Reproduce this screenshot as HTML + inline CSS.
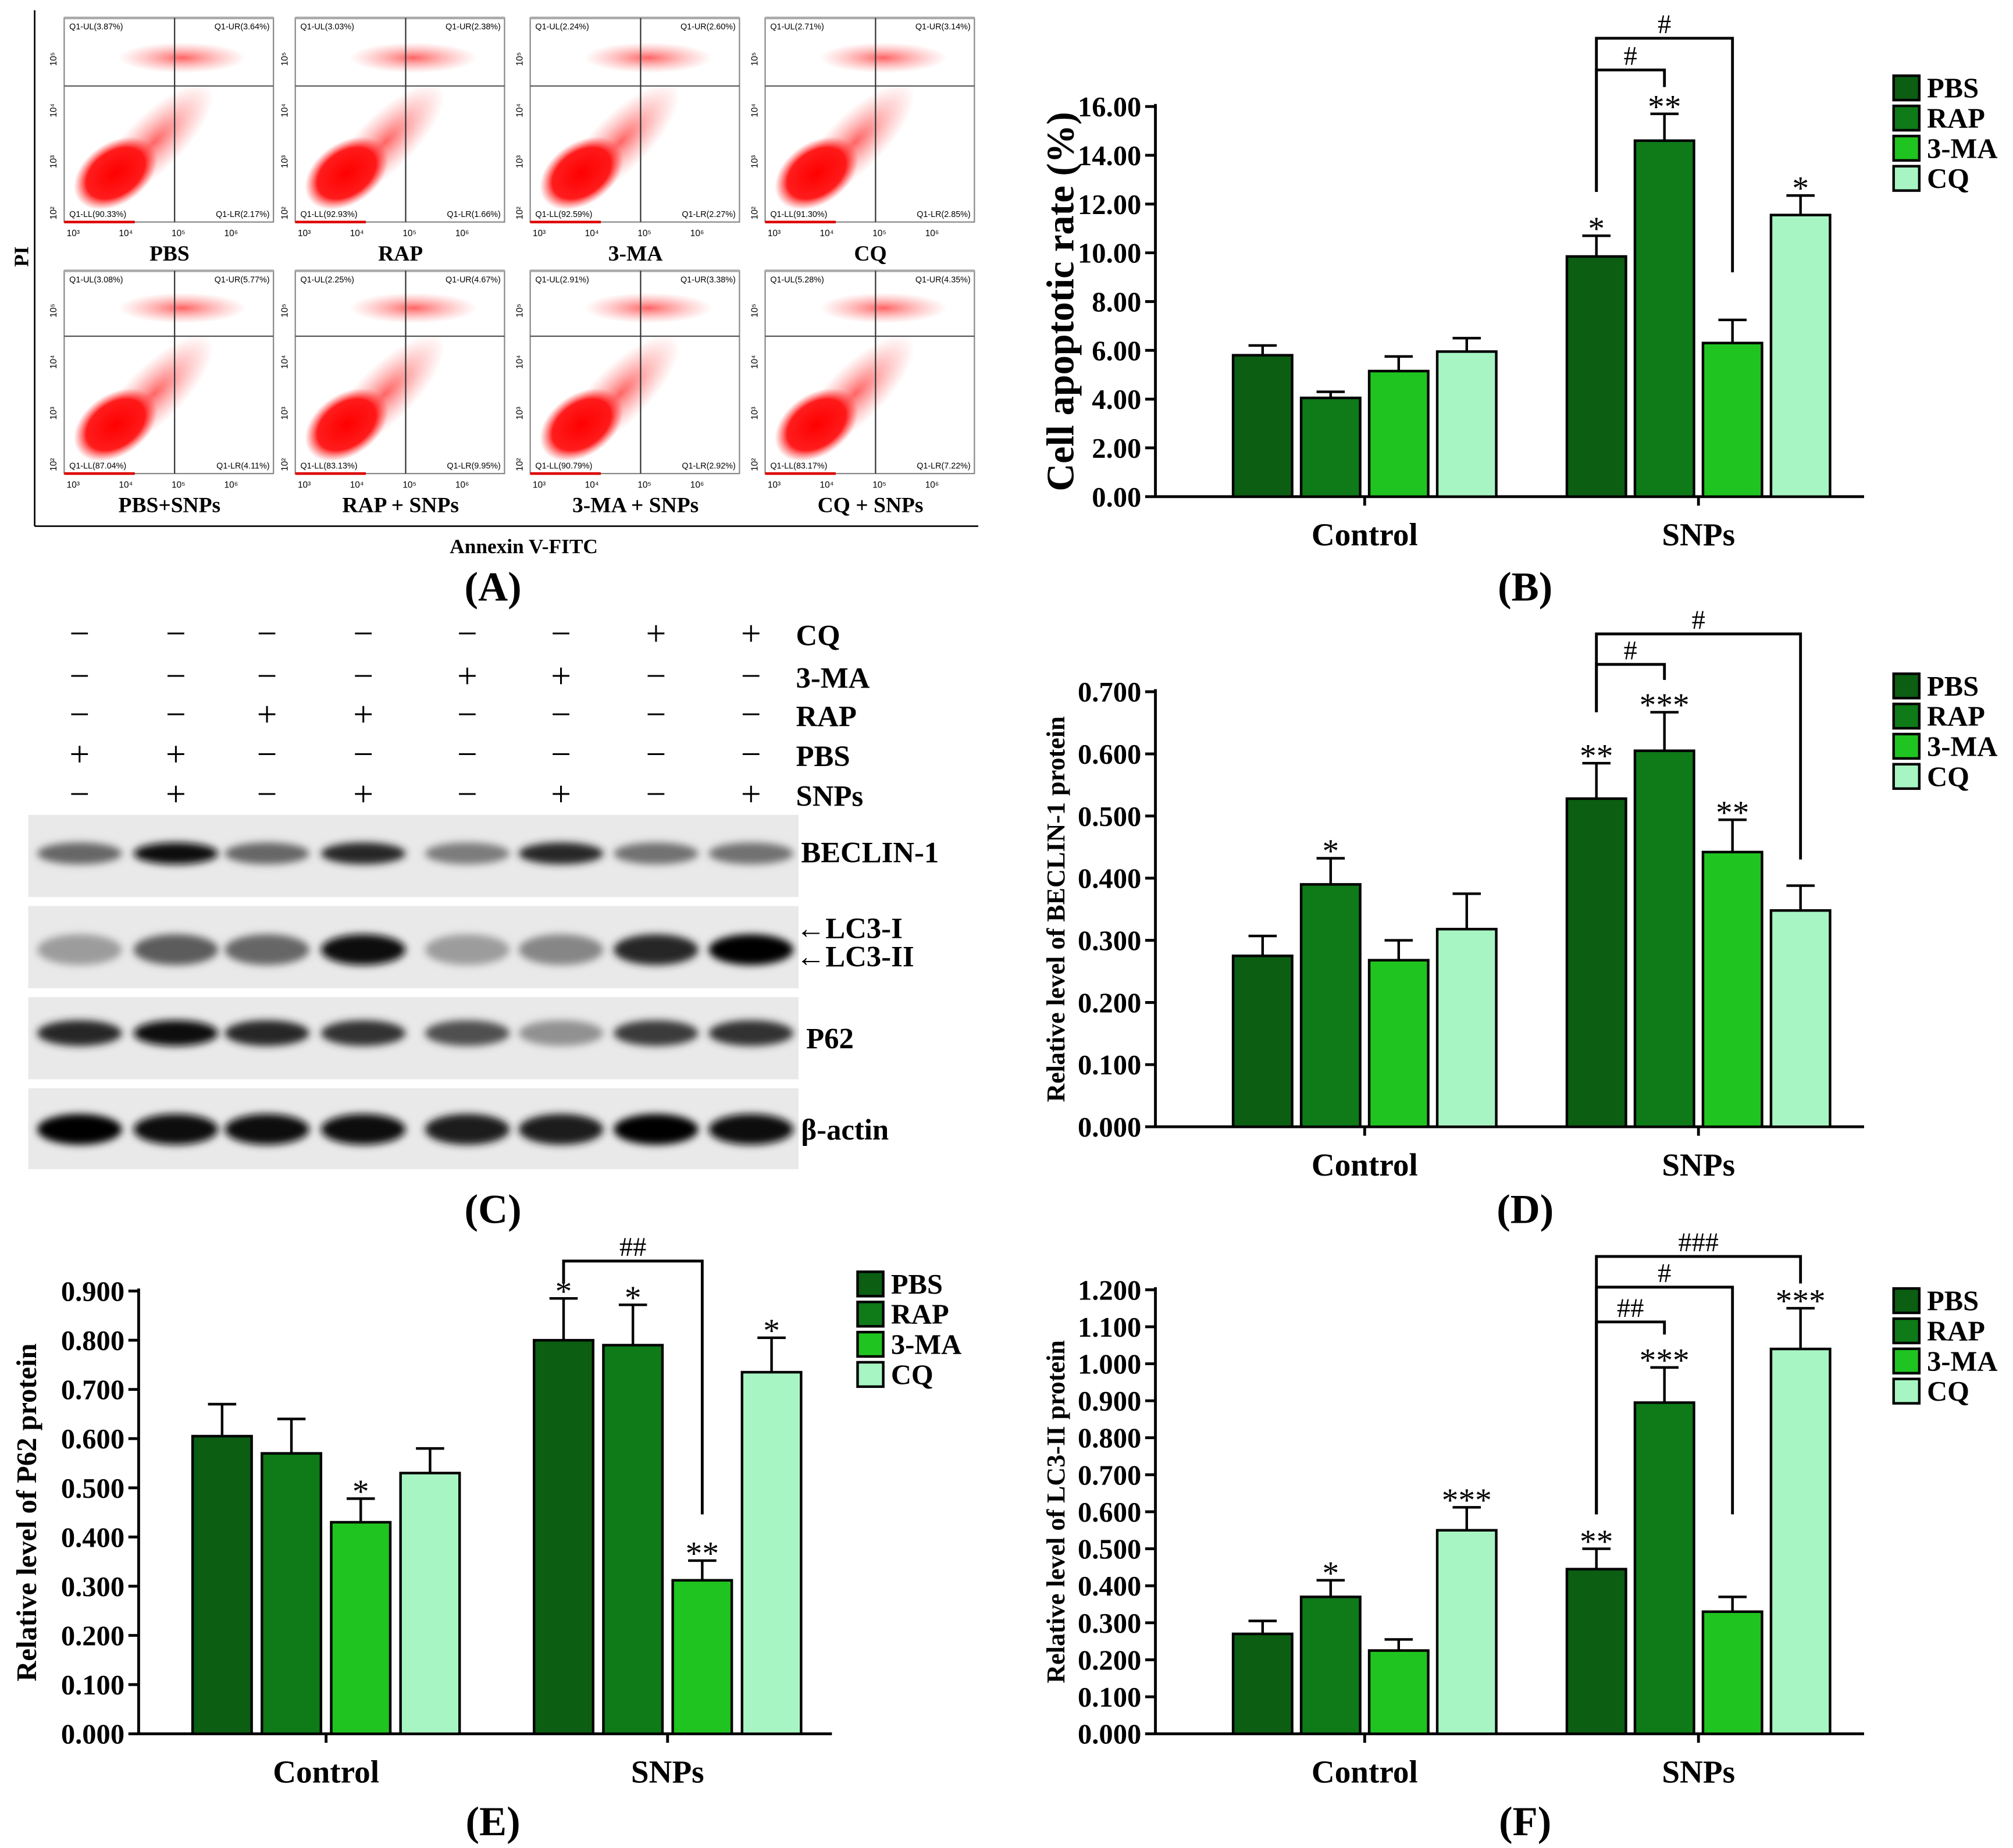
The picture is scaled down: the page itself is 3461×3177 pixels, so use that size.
<!DOCTYPE html>
<html><head><meta charset="utf-8"><style>
html,body{margin:0;padding:0;background:#fff;}
svg{display:block;font-family:"Liberation Serif",serif;}
</style></head><body>
<svg id="fig" xmlns="http://www.w3.org/2000/svg" width="3461" height="3177" viewBox="0 0 1568 1440" preserveAspectRatio="none">
<defs>
<filter id="blur2" x="-50%" y="-50%" width="200%" height="200%"><feGaussianBlur stdDeviation="3"/></filter>
<radialGradient id="dens"><stop offset="0" stop-color="#f00" stop-opacity="1"/><stop offset="0.7" stop-color="#f11" stop-opacity="0.95"/><stop offset="1" stop-color="#f44" stop-opacity="0"/></radialGradient>
<radialGradient id="dens2"><stop offset="0" stop-color="#f22" stop-opacity="0.7"/><stop offset="1" stop-color="#f66" stop-opacity="0"/></radialGradient>
</defs>
<g id="panelA"></g>
<g id="panelC"></g>
<g id="charts"></g>
</svg>
<script>
// ---------- data ----------
const groups = ["Control", "SNPs"];
const seriesNames = ["PBS", "RAP", "3-MA", "CQ"];
const seriesColors = ["#0b5e12", "#0e7a18", "#20c420", "#a8f5c4"];

const apoptosisValues = [[5.8, 4.05, 5.15, 5.95], [9.85, 14.6, 6.3, 11.55]];
const apoptosisErrors = [[6.2, 4.3, 5.75, 6.5], [10.7, 15.7, 7.25, 12.35]];
const apoptosisStars = [["", "", "", ""], ["*", "**", "", "*"]];
const apoptosisTicks = ["0.00","2.00","4.00","6.00","8.00","10.00","12.00","14.00","16.00"];

const beclinValues = [[0.275, 0.39, 0.268, 0.318], [0.528, 0.605, 0.442, 0.348]];
const beclinErrors = [[0.307, 0.432, 0.3, 0.375], [0.585, 0.667, 0.494, 0.388]];
const beclinStars = [["", "*", "", ""], ["**", "***", "**", ""]];
const beclinTicks = ["0.000","0.100","0.200","0.300","0.400","0.500","0.600","0.700"];

const p62Values = [[0.605, 0.57, 0.43, 0.53], [0.80, 0.79, 0.312, 0.735]];
const p62Errors = [[0.67, 0.64, 0.478, 0.58], [0.885, 0.872, 0.352, 0.805]];
const p62Stars = [["", "", "*", ""], ["*", "*", "**", "*"]];
const p62Ticks = ["0.000","0.100","0.200","0.300","0.400","0.500","0.600","0.700","0.800","0.900"];

const lc3Values = [[0.27, 0.37, 0.225, 0.55], [0.445, 0.895, 0.33, 1.04]];
const lc3Errors = [[0.305, 0.415, 0.255, 0.612], [0.5, 0.99, 0.37, 1.15]];
const lc3Stars = [["", "*", "", "***"], ["**", "***", "", "***"]];
const lc3Ticks = ["0.000","0.100","0.200","0.300","0.400","0.500","0.600","0.700","0.800","0.900","1.000","1.100","1.200"];

// brackets: [fromBar, toBar, topValue, leftBottomValue, rightBottomValue, label] (bars in SNPs group)
const apoptosisBrackets = [[0, 2, 18.8, 12.5, 9.2, "#"], [0, 1, 17.5, 12.5, 16.8, "#"]];
const beclinBrackets = [[0, 3, 0.793, 0.667, 0.43, "#"], [0, 1, 0.744, 0.667, 0.719, "#"]];
const p62Brackets = [[0, 2, 0.961, 0.915, 0.446, "##"]];
const lc3Brackets = [[0, 3, 1.29, 0.593, 1.217, "###"], [0, 2, 1.207, 0.593, 0.593, "#"], [0, 1, 1.113, 0.593, 1.079, "##"]];

// ---------- helpers ----------
const NS = "http://www.w3.org/2000/svg";
function mk(tag, attrs, parent, text) {
  const e = document.createElementNS(NS, tag);
  for (const k in attrs) e.setAttribute(k, attrs[k]);
  if (text !== undefined) e.textContent = text;
  parent.appendChild(e);
  return e;
}
const charts = document.getElementById("charts");

function drawChart(cfg) {
  const g = mk("g", {}, charts);
  
  
  const max = cfg.max;
  const y = v => cfg.y0 - v / max * (cfg.y0 - cfg.yTop);
  const barX = (gi, si) => cfg.centers[gi] + (si - 1.5) * cfg.gap;
  const ax = mk("g", {stroke: "#000", "stroke-width": 2.2, fill: "none"}, g);
  
  
  mk("line", {x1: cfg.ax, y1: y(max) - 2, x2: cfg.ax, y2: cfg.y0}, ax);
  mk("line", {x1: cfg.ax, y1: cfg.y0, x2: cfg.xEnd, y2: cfg.y0}, ax);
  cfg.ticks.forEach((t, i) => {
    const v = i * cfg.step;
    mk("line", {x1: cfg.ax - 8, y1: y(v), x2: cfg.ax, y2: y(v)}, ax);
    const tl = mk("text", {x: cfg.ax - 11, y: y(v) + cfg.tfs * 0.35, "text-anchor": "end", "font-size": cfg.tfs, "font-weight": "bold"}, g, t);
    
    
  });
  groups.forEach((gn, gi) => {
    mk("line", {x1: cfg.centers[gi], y1: cfg.y0, x2: cfg.centers[gi], y2: cfg.y0 + 7}, ax);
    const cl = mk("text", {x: cfg.centers[gi], y: cfg.y0 + 38, "text-anchor": "middle", "font-size": 25, "font-weight": "bold"}, g, gn);
    
    
    cfg.values[gi].forEach((v, si) => {
      const cx = barX(gi, si);
      const r = mk("rect", {x: cx - cfg.bw / 2, y: y(v), width: cfg.bw, height: cfg.y0 - y(v), fill: seriesColors[si], stroke: "#000", "stroke-width": 2}, g);
      
      
      const e = cfg.errors[gi][si];
      const eb = mk("g", {stroke: "#000", "stroke-width": 2}, g);
      
      
      mk("line", {x1: cx, y1: y(v), x2: cx, y2: y(e)}, eb);
      mk("line", {x1: cx - 11, y1: y(e), x2: cx + 11, y2: y(e)}, eb);
      const s = cfg.stars[gi][si];
      if (s) {
        const st = mk("text", {x: cx, y: y(e) + 3, "text-anchor": "middle", "font-size": 26, "font-family": "Liberation Serif, serif"}, g, s);
        
        
      }
    });
  });
  cfg.brackets.forEach(b => {
    const x1 = barX(1, b[0]), x2 = barX(1, b[1]);
    const bg = mk("g", {}, g);
    
    
    mk("polyline", {points: `${x1},${y(b[3])} ${x1},${y(b[2])} ${x2},${y(b[2])} ${x2},${y(b[4])}`, fill: "none", stroke: "#000", "stroke-width": 2.2}, bg);
    mk("text", {x: (x1 + x2) / 2, y: y(b[2]) - 4, "text-anchor": "middle", "font-size": 21}, bg, b[5]);
  });
  const yt = mk("text", {x: cfg.titleX, y: (cfg.y0 + y(max)) / 2, transform: `rotate(-90 ${cfg.titleX} ${(cfg.y0 + y(max)) / 2})`, "text-anchor": "middle", "font-size": cfg.titleFs, "font-weight": "bold"}, g, cfg.title);
  
  
  const lg = mk("g", {}, g);
  
  
  seriesNames.forEach((n, i) => {
    const ly = cfg.legY + i * 23.5;
    const le = mk("g", {}, lg);
    
    
    mk("rect", {x: cfg.legX, y: ly, width: 20, height: 19, fill: seriesColors[i], stroke: "#000", "stroke-width": 2}, le);
    mk("text", {x: cfg.legX + 26, y: ly + 17, "font-size": 22, "font-weight": "bold"}, le, n);
  });
  const pl = mk("text", {x: cfg.letterX, y: cfg.letterY, "text-anchor": "middle", "font-size": 32, "font-weight": "bold"}, g, cfg.letter);
  
  
}

drawChart({name: "chart-b-apoptosis", values: apoptosisValues, errors: apoptosisErrors, stars: apoptosisStars, ticks: apoptosisTicks, brackets: apoptosisBrackets,
  max: 16, step: 2, ax: 900, y0: 387, yTop: 83, xEnd: 1452, centers: [1063, 1323], gap: 53, bw: 46, tfs: 22,
  title: "Cell apoptotic rate (%)", titleX: 836, titleFs: 30, legX: 1475, legY: 59, letter: "(B)", letterX: 1188, letterY: 468});
drawChart({name: "chart-d-beclin", values: beclinValues, errors: beclinErrors, stars: beclinStars, ticks: beclinTicks, brackets: beclinBrackets,
  max: 0.7, step: 0.1, ax: 900, y0: 878, yTop: 539, xEnd: 1452, centers: [1063, 1323], gap: 53, bw: 46, tfs: 22,
  title: "Relative level of BECLIN-1 protein", titleX: 829, titleFs: 20, legX: 1475, legY: 525, letter: "(D)", letterX: 1188, letterY: 953});
drawChart({name: "chart-e-p62", values: p62Values, errors: p62Errors, stars: p62Stars, ticks: p62Ticks, brackets: p62Brackets,
  max: 0.9, step: 0.1, ax: 108, y0: 1351, yTop: 1006, xEnd: 648, centers: [254, 520], gap: 54, bw: 46, tfs: 22,
  title: "Relative level of P62 protein", titleX: 28, titleFs: 22, legX: 668, legY: 991, letter: "(E)", letterX: 384, letterY: 1430});
drawChart({name: "chart-f-lc3", values: lc3Values, errors: lc3Errors, stars: lc3Stars, ticks: lc3Ticks, brackets: lc3Brackets,
  max: 1.2, step: 0.1, ax: 900, y0: 1351, yTop: 1005, xEnd: 1452, centers: [1063, 1323], gap: 53, bw: 46, tfs: 22,
  title: "Relative level of LC3-II protein", titleX: 829, titleFs: 20, legX: 1475, legY: 1004, letter: "(F)", letterX: 1188, letterY: 1430});

// ---------- Panel A: flow cytometry ----------
const A = document.getElementById("panelA");
const flowLabels = ["PBS", "RAP", "3-MA", "CQ", "PBS+SNPs", "RAP + SNPs", "3-MA + SNPs", "CQ + SNPs"];
const flowUL = ["3.87","3.03","2.24","2.71","3.08","2.25","2.91","5.28"];
const flowUR = ["3.64","2.38","2.60","3.14","5.77","4.67","3.38","4.35"];
const flowLL = ["90.33","92.93","92.59","91.30","87.04","83.13","90.79","83.17"];
const flowLR = ["2.17","1.66","2.27","2.85","4.11","9.95","2.92","7.22"];
const colX = [50, 230, 413, 596];
const rowY = [[14, 173, 67], [211, 369, 262]];
flowLabels.forEach((lab, i) => {
  const r = Math.floor(i / 4), c = i % 4;
  const x0 = colX[c], x1 = x0 + 163, y0 = rowY[r][0], y1 = rowY[r][1], qy = rowY[r][2], qx = x0 + 86;
  const g = mk("g", {}, A);
  
  
  mk("rect", {x: x0, y: y0, width: 163, height: y1 - y0, fill: "#fff", stroke: "#888", "stroke-width": 1}, g);
  mk("line", {x1: x0, y1: y0, x2: x1, y2: y0, stroke: "#aaa", "stroke-width": 2}, g);
  const dg = mk("g", {}, g);
  mk("ellipse", {cx: x0 + 70, cy: y1 - 62, rx: 62, ry: 22, fill: "url(#dens2)", transform: `rotate(-45 ${x0 + 70} ${y1 - 62})`}, dg);
  mk("ellipse", {cx: x0 + 40, cy: y1 - 38, rx: 36, ry: 24, fill: "url(#dens)", transform: `rotate(-35 ${x0 + 40} ${y1 - 38})`}, dg);
  mk("ellipse", {cx: x0 + 92, cy: qy - 22, rx: 50, ry: 12, fill: "url(#dens2)"}, dg);
  mk("line", {x1: x0, y1: qy, x2: x1, y2: qy, stroke: "#555", "stroke-width": 1}, g);
  mk("line", {x1: qx, y1: y0, x2: qx, y2: y1, stroke: "#333", "stroke-width": 1}, g);
  mk("line", {x1: x0, y1: y1, x2: x0 + 55, y2: y1, stroke: "#d00", "stroke-width": 2}, g);
  const fs = 6.5;
  mk("text", {x: x0 + 4, y: y0 + 9, "font-size": fs, "font-family": "Liberation Sans, sans-serif"}, g, `Q1-UL(${flowUL[i]}%)`);
  mk("text", {x: x1 - 3, y: y0 + 9, "font-size": fs, "text-anchor": "end", "font-family": "Liberation Sans, sans-serif"}, g, `Q1-UR(${flowUR[i]}%)`);
  mk("text", {x: x0 + 4, y: y1 - 4, "font-size": fs, "font-family": "Liberation Sans, sans-serif"}, g, `Q1-LL(${flowLL[i]}%)`);
  mk("text", {x: x1 - 3, y: y1 - 4, "font-size": fs, "text-anchor": "end", "font-family": "Liberation Sans, sans-serif"}, g, `Q1-LR(${flowLR[i]}%)`);
  ["10³","10⁴","10⁵","10⁶"].forEach((t, k) => {
    mk("text", {x: x0 + 7 + k * 41, y: y1 + 11, "font-size": 7, "text-anchor": "middle", "font-family": "Liberation Sans, sans-serif"}, g, t);
    mk("text", {x: x0 - 6, y: y1 - 7 - k * 40, "font-size": 7, "text-anchor": "middle", transform: `rotate(-90 ${x0 - 6} ${y1 - 7 - k * 40})`, "font-family": "Liberation Sans, sans-serif"}, g, ["10²","10³","10⁴","10⁵"][k]);
  });
  const tl = mk("text", {x: x0 + 82, y: y1 + 30, "text-anchor": "middle", "font-size": 17, "font-weight": "bold"}, g, lab);
  
  
});
mk("line", {x1: 27, y1: 8, x2: 27, y2: 410, stroke: "#000", "stroke-width": 1.2}, A);
mk("line", {x1: 27, y1: 410, x2: 762, y2: 410, stroke: "#000", "stroke-width": 1.2}, A);
mk("text", {x: 22, y: 200, transform: "rotate(-90 22 200)", "text-anchor": "middle", "font-size": 16, "font-weight": "bold"}, A, "PI");
mk("text", {x: 408, y: 431, "text-anchor": "middle", "font-size": 16, "font-weight": "bold"}, A, "Annexin V-FITC");
mk("text", {x: 384, y: 468, "text-anchor": "middle", "font-size": 32, "font-weight": "bold"}, A, "(A)");

// ---------- Panel C: western blot ----------
const C = document.getElementById("panelC");
const laneX = [62, 137, 208, 283, 364, 437, 511, 585];
const signRows = ["CQ", "3-MA", "RAP", "PBS", "SNPs"];
const signRowY = [494, 527, 557, 588, 619];
const signs = [
  ["−","−","−","−","−","−","+","+"],
  ["−","−","−","−","+","+","−","−"],
  ["−","−","+","+","−","−","−","−"],
  ["+","+","−","−","−","−","−","−"],
  ["−","+","−","+","−","+","−","+"]];
signRows.forEach((n, ri) => {
  signs[ri].forEach((s, li) => mk("text", {x: laneX[li], y: signRowY[ri] + 9, "text-anchor": "middle", "font-size": 28}, C, s));
  mk("text", {x: 620, y: signRowY[ri] + 9, "font-size": 23, "font-weight": "bold"}, C, n);
});
const blots = [
  {name: "BECLIN-1", y0: 635, y1: 699, by: 665, h: 13, int: [0.55, 0.95, 0.55, 0.85, 0.45, 0.85, 0.5, 0.5]},
  {name: "LC3", y0: 706, y1: 770, by: 740, h: 20, int: [0.3, 0.6, 0.55, 0.95, 0.3, 0.4, 0.85, 1.0]},
  {name: "P62", y0: 777, y1: 841, by: 805, h: 16, int: [0.85, 0.95, 0.85, 0.8, 0.65, 0.35, 0.75, 0.8]},
  {name: "beta-actin", y0: 848, y1: 911, by: 880, h: 20, int: [1, 0.95, 0.95, 0.95, 0.9, 0.9, 1, 0.95]}];
blots.forEach(b => {
  const g = mk("g", {}, C);
  
  
  mk("rect", {x: 22, y: b.y0, width: 600, height: b.y1 - b.y0, fill: "#e9e9e9"}, g);
  b.int.forEach((v, i) => {
    const c = Math.round(220 - v * 215);
    mk("ellipse", {cx: laneX[i], cy: b.by, rx: 33, ry: b.h / 2 + 2, fill: `rgb(${c},${c},${c})`, filter: "url(#blur2)"}, g);
  });
});
mk("text", {x: 624, y: 672, "font-size": 23, "font-weight": "bold"}, C, "BECLIN-1");
mk("text", {x: 620, y: 731, "font-size": 23, "font-weight": "bold"}, C, "←LC3-I");
mk("text", {x: 620, y: 753, "font-size": 23, "font-weight": "bold"}, C, "←LC3-II");
mk("text", {x: 628, y: 817, "font-size": 23, "font-weight": "bold"}, C, "P62");
mk("text", {x: 624, y: 888, "font-size": 23, "font-weight": "bold"}, C, "β-actin");
mk("text", {x: 384, y: 953, "text-anchor": "middle", "font-size": 32, "font-weight": "bold"}, C, "(C)");
</script>
</body></html>
